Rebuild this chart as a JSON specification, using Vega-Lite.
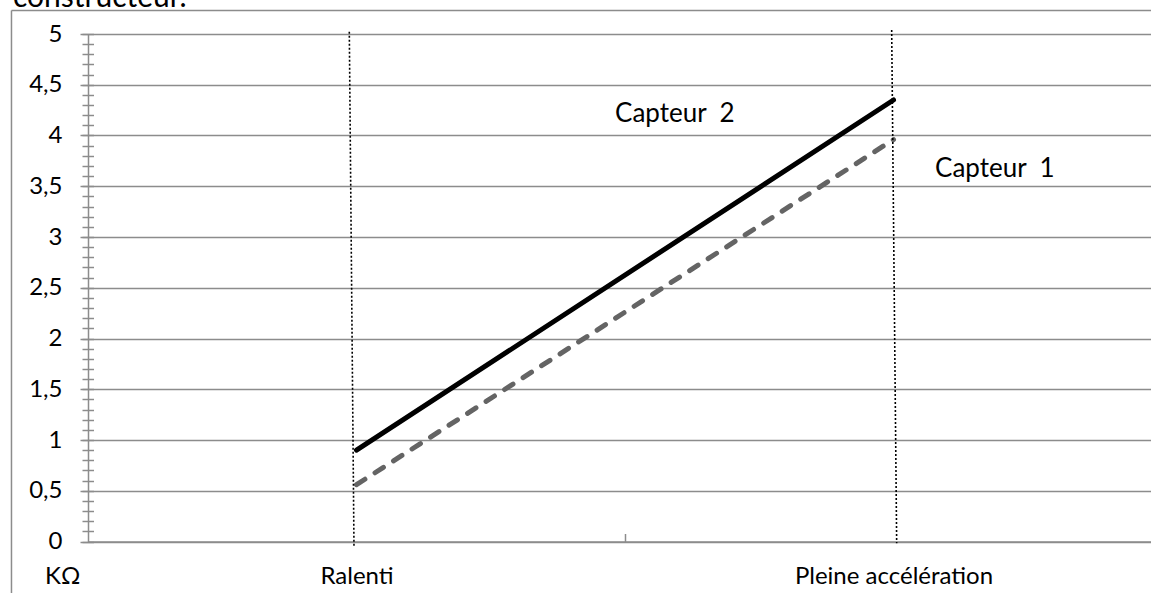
{
  "$schema": "https://vega.github.io/schema/vega-lite/v6.json",
  "width": 1063,
  "height": 507.5,
  "autosize": {"type": "none"},
  "padding": {"left": 88, "top": 34, "right": 0, "bottom": 51.5},
  "background": "white",
  "config": {"view": {"stroke": null}, "font": "Lato"},
  "datasets": {
    "series": [
      {"pos": 0.5, "kohm": 0.9, "capteur": "Capteur 2"},
      {"pos": 1.5, "kohm": 4.35, "capteur": "Capteur 2"},
      {"pos": 0.5, "kohm": 0.56, "capteur": "Capteur 1"},
      {"pos": 1.5, "kohm": 3.96, "capteur": "Capteur 1"}
    ],
    "guides": [
      {"x": 0.4866, "x2": 0.4953, "y": 5.023, "y2": -0.044},
      {"x": 1.4966, "x2": 1.5059, "y": 5.04, "y2": -0.018}
    ],
    "frame": [
      {"x": -0.1425, "x2": 2.1, "y": 5.2315, "y2": 5.2315},
      {"x": -0.1425, "x2": -0.1425, "y": 5.2315, "y2": -0.7}
    ],
    "labels": [
      {"x": 0.9814, "y": 4.136, "text": "Capteur \u00a02", "size": 26},
      {"x": 1.5773, "y": 3.594, "text": "Capteur \u00a01", "size": 26},
      {"x": -0.0801, "y": -0.4217, "text": "KΩ", "size": 24},
      {"x": -0.1397, "y": 5.27, "text": "constructeur.", "size": 30}
    ]
  },
  "resolve": {"axis": {"y": "independent"}},
  "layer": [
    {
      "data": {"name": "frame"},
      "mark": {"type": "rule", "color": "#8c8c8c", "strokeWidth": 1.5},
      "encoding": {
        "x": {
          "field": "x", "type": "quantitative",
          "scale": {"domain": [0, 1.9795], "nice": false, "zero": false},
          "axis": {
            "values": [0.5, 1, 1.5],
            "title": null,
            "grid": false,
            "domainColor": "#8c8c8c",
            "domainWidth": 1.5,
            "tickColor": "#8c8c8c",
            "tickWidth": 1.5,
            "tickSize": -8,
            "tickOpacity": {"condition": {"test": "datum.value == 1", "value": 1}, "value": 0},
            "labelExpr": "datum.value == 0.5 ? 'Ralenti' : datum.value == 1.5 ? 'Pleine accélération' : ''",
            "labelFont": "Lato",
            "labelFontSize": 24,
            "labelColor": "#000000",
            "labelBaseline": "alphabetic",
            "labelPadding": 50,
            "labelLimit": 0,
            "labelFlush": false,
            "labelOverlap": false
          }
        },
        "x2": {"field": "x2"},
        "y": {
          "field": "y", "type": "quantitative",
          "scale": {"domain": [0, 5], "nice": false, "zero": false},
          "axis": {
            "values": [0, 0.5, 1, 1.5, 2, 2.5, 3, 3.5, 4, 4.5, 5],
            "title": null,
            "grid": true,
            "gridColor": "#8c8c8c",
            "gridWidth": 1.5,
            "domainColor": "#8c8c8c",
            "domainWidth": 1.5,
            "tickColor": "#8c8c8c",
            "tickWidth": 1.5,
            "tickSize": 8,
            "labelExpr": "replace(format(datum.value, '~g'), '.', ',')",
            "labelFont": "Lato",
            "labelFontSize": 24,
            "labelColor": "#000000",
            "labelPadding": 18,
            "labelOverlap": false,
            "labelFlush": false
          }
        },
        "y2": {"field": "y2"}
      }
    },
    {
      "data": {"name": "series"},
      "transform": [{"filter": "datum.capteur == 'Capteur 1'"}],
      "mark": {"type": "line", "color": "#646464", "strokeWidth": 5, "strokeDash": [10, 12], "strokeCap": "round"},
      "encoding": {
        "x": {"field": "pos", "type": "quantitative"},
        "y": {
          "field": "kohm", "type": "quantitative",
          "axis": {
            "orient": "left",
            "values": [0, 0.1, 0.2, 0.3, 0.4, 0.5, 0.6, 0.7, 0.8, 0.9, 1, 1.1, 1.2, 1.3, 1.4, 1.5, 1.6, 1.7, 1.8, 1.9, 2, 2.1, 2.2, 2.3, 2.4, 2.5, 2.6, 2.7, 2.8, 2.9, 3, 3.1, 3.2, 3.3, 3.4, 3.5, 3.6, 3.7, 3.8, 3.9, 4, 4.1, 4.2, 4.3, 4.4, 4.5, 4.6, 4.7, 4.8, 4.9, 5],
            "title": null,
            "grid": false,
            "domain": false,
            "labels": false,
            "offset": -5.5,
            "tickSize": 11.5,
            "tickColor": "#8c8c8c",
            "tickWidth": 1.5
          }
        }
      }
    },
    {
      "data": {"name": "series"},
      "transform": [{"filter": "datum.capteur == 'Capteur 2'"}],
      "mark": {"type": "line", "color": "#000000", "strokeWidth": 5, "strokeCap": "round"},
      "encoding": {
        "x": {"field": "pos", "type": "quantitative"},
        "y": {"field": "kohm", "type": "quantitative", "axis": null}
      }
    },
    {
      "data": {"name": "guides"},
      "mark": {"type": "rule", "color": "#000000", "strokeWidth": 1.6, "strokeDash": [2, 2]},
      "encoding": {
        "x": {"field": "x", "type": "quantitative"},
        "x2": {"field": "x2"},
        "y": {"field": "y", "type": "quantitative", "axis": null},
        "y2": {"field": "y2"}
      }
    },
    {
      "data": {"name": "labels"},
      "mark": {"type": "text", "align": "left", "baseline": "alphabetic", "font": "Lato", "color": "#000000"},
      "encoding": {
        "x": {"field": "x", "type": "quantitative"},
        "y": {"field": "y", "type": "quantitative", "axis": null},
        "text": {"field": "text"},
        "size": {"field": "size", "type": "quantitative", "scale": null, "legend": null}
      }
    }
  ]
}
